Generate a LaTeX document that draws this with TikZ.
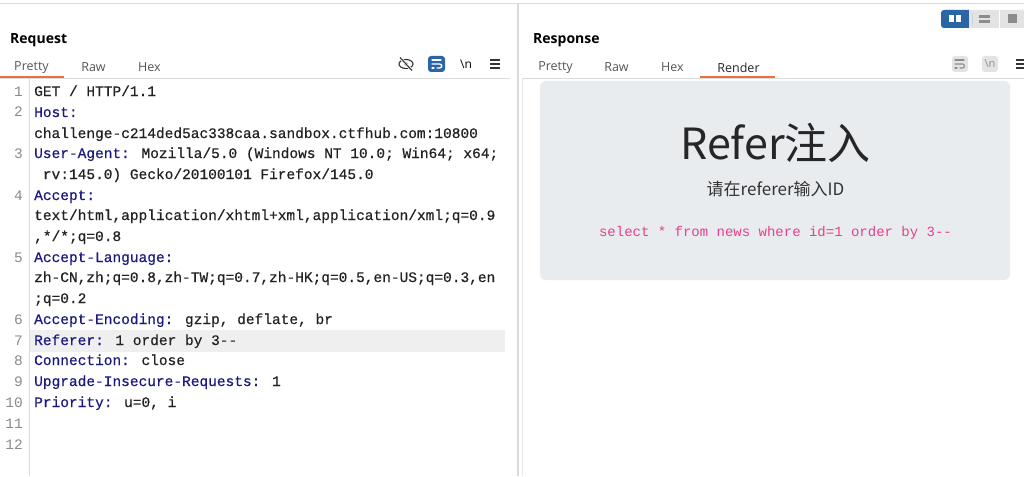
\documentclass[tikz,border=0pt]{standalone}
\usepackage{fontspec}
\setmainfont{Open Sans}
\newfontfamily\codefont[FakeBold=0.5]{Liberation Mono}
\newfontfamily\plainmono{Liberation Mono}
\newfontfamily\cjk{Noto Sans CJK SC}
\usetikzlibrary{calc}

\definecolor{keyc}{HTML}{1A1A80}
\definecolor{valc}{HTML}{222222}
\definecolor{numc}{HTML}{8A8A8A}
\definecolor{linec}{HTML}{DADADA}
\definecolor{tabc}{HTML}{555555}
\definecolor{burporange}{HTML}{E8703A}
\definecolor{burpblue}{HTML}{2A65A5}
\definecolor{hilite}{HTML}{EFEFEF}
\definecolor{renderbg}{HTML}{E9ECEF}
\definecolor{codepink}{HTML}{E83E8C}
\definecolor{btngray}{HTML}{E3E3E3}
\definecolor{icongray}{HTML}{8C8C8C}

\newcommand\hk[1]{\textcolor{keyc}{#1}}

\begin{document}
\begin{tikzpicture}[x=1pt,y=-1pt,
  codeline/.style={anchor=west,inner sep=0pt,text=valc,yshift=-1.5pt,
    font=\codefont\fontsize{14.5}{17}\selectfont,text height=10pt,text depth=3pt},
  lineno/.style={anchor=east,inner sep=0pt,text=numc,yshift=-1.5pt,
    font=\plainmono\fontsize{14.5}{17}\selectfont,text height=10pt,text depth=3pt},
  tablabel/.style={inner sep=0pt,text=tabc,yshift=-1.5pt,font=\fontsize{12.5}{15}\selectfont},
  panetitle/.style={anchor=west,inner sep=0pt,yshift=-1.5pt,font=\bfseries\fontsize{14}{17}\selectfont}]
  \useasboundingbox (0,0) rectangle (1024,476);
  \fill[white] (0,0) rectangle (1024,476);

  % frame lines
  \draw[linec,line width=1.5pt] (0,3.5) -- (1024,3.5);
  \draw[linec,line width=1.5pt] (518,4) -- (518,476);
  \draw[linec] (0,78.5) -- (510,78.5);
  \draw[linec] (522,78.5) -- (1024,78.5);
  \draw[linec!60] (522,79) -- (522,476);
  \draw[linec] (29,79) -- (29,476);

  % request pane
  \node[panetitle] (reqtitle) at (10,39) {Request};
  \node[tablabel] (reqpretty) at (31.5,66) {Pretty};
  \node[tablabel] (reqraw) at (93.5,66) {Raw};
  \node[tablabel] (reqhex) at (149.5,66) {Hex};
  \draw[burporange,line width=2pt] (0,77.5) -- (64,77.5);

  % request toolbar
  \draw[black!80,line width=1.1pt] (406,64) ellipse [x radius=7,y radius=4.5];
  \draw[black!80,fill=black!80] (406,64) circle [radius=1.6];
  \draw[white,line width=2.6pt] (400,57.5) -- (412,70.5);
  \draw[black!80,line width=1.1pt] (400,57.5) -- (412,70.5);
  \fill[burpblue,rounded corners=3pt] (428,56) rectangle (445,72);
  \draw[white,line width=1.3pt,line cap=round] (432,60) -- (441,60);
  \draw[white,line width=1.3pt,line cap=round] (432,64) -- (439.5,64)
    .. controls (442.5,64) and (442.5,68) .. (439.5,68) -- (437,68);
  \draw[white,line width=1.3pt,line cap=round] (432,68) -- (434,68);
  \node[inner sep=0pt,font=\fontsize{12}{14}\selectfont] (reqnl) at (466,64) {\textbackslash n};
  \foreach \dy in {-4,0,4}
    \draw[black!80,line width=1.2pt] (490,64+\dy) -- (500,64+\dy);

  % highlighted row
  \fill[hilite] (29.5,330) rectangle (505,352);

  % line numbers
  \foreach \n/\y in {1/91,2/112,3/153,4/195,5/257,6/319,7/340,8/360,9/381,10/402,11/423,12/444}
    \node[lineno] (n\n) at (23,\y) {\n};

  % request lines
  \node[codeline] (l1) at (34,91) {GET / HTTP/1.1};
  \node[codeline] (l2) at (34,112) {\hk{Host:}};
  \node[codeline] (l2b) at (34,133) {challenge-c214ded5ac338caa.sandbox.ctfhub.com:10800};
  \node[codeline] (l3) at (34,153) {\hk{User-Agent:} Mozilla/5.0 (Windows NT 10.0; Win64; x64;};
  \node[codeline] (l3b) at (34,174) {\ rv:145.0) Gecko/20100101 Firefox/145.0};
  \node[codeline] (l4) at (34,195) {\hk{Accept:}};
  \node[codeline] (l4b) at (34,215) {text/html,application/xhtml+xml,application/xml;q=0.9};
  \node[codeline] (l4c) at (34,236) {,*/*;q=0.8};
  \node[codeline] (l5) at (34,257) {\hk{Accept-Language:}};
  \node[codeline] (l5b) at (34,277) {zh-CN,zh;q=0.8,zh-TW;q=0.7,zh-HK;q=0.5,en-US;q=0.3,en};
  \node[codeline] (l5c) at (34,298) {;q=0.2};
  \node[codeline] (l6) at (34,319) {\hk{Accept-Encoding:} gzip, deflate, br};
  \node[codeline] (l7) at (34,340) {\hk{Referer:} 1 order by 3--};
  \node[codeline] (l8) at (34,360) {\hk{Connection:} close};
  \node[codeline] (l9) at (34,381) {\hk{Upgrade-Insecure-Requests:} 1};
  \node[codeline] (l10) at (34,402) {\hk{Priority:} u=0, i};

  % layout switch
  \fill[btngray,rounded corners=3pt] (941,10) rectangle (1030,28);
  \fill[burpblue,rounded corners=3pt] (941,10) rectangle (972,28);
  \fill[burpblue] (965,10) rectangle (969,28);
  \fill[btngray] (969,10) rectangle (972,28);
  \draw[white,line width=1pt] (999.5,10) -- (999.5,28);
  \fill[white] (949,15) rectangle (954,22);
  \fill[white] (956,15) rectangle (961,22);
  \fill[icongray] (979,15.5) rectangle (990,18);
  \fill[icongray] (979,20.5) rectangle (990,23);
  \fill[icongray] (1008,14.5) rectangle (1017,23.5);

  % response pane
  \node[panetitle] (restitle) at (533,39) {Response};
  \node[tablabel] (respretty) at (555.5,66) {Pretty};
  \node[tablabel] (resraw) at (616.5,66) {Raw};
  \node[tablabel] (reshex) at (672.5,66) {Hex};
  \node[tablabel,text=black!85] (resrender) at (738.5,66) {Render};
  \draw[burporange,line width=2pt] (700,77.5) -- (775,77.5);

  % response toolbar (disabled)
  \fill[btngray,rounded corners=3pt] (952,56) rectangle (968,72);
  \draw[icongray,line width=1.1pt,line cap=round] (955,60) -- (964,60);
  \draw[icongray,line width=1.1pt,line cap=round] (955,64) -- (962.5,64)
    .. controls (965,64) and (965,68) .. (962.5,68) -- (960,68);
  \draw[icongray,line width=1.1pt,line cap=round] (955,68) -- (957,68);
  \fill[btngray,rounded corners=3pt] (982,56) rectangle (998,72);
  \node[inner sep=0pt,text=icongray,font=\fontsize{11}{13}\selectfont] (resnl) at (990,64) {\textbackslash n};
  \foreach \dy in {-4,0,4}
    \draw[black!80,line width=1.2pt] (1016,64+\dy) -- (1024,64+\dy);

  % rendered page
  \fill[renderbg,rounded corners=6pt] (540,81) rectangle (1010,280);
  \coordinate (rc) at (775.5,81);
  \node[inner sep=0pt,text=black!85,font=\cjk\fontsize{43}{47}\selectfont] (htitle) at ($(rc)+(0,62)$) {Refer注入};
  \node[inner sep=0pt,text=black!80,font=\cjk\fontsize{17}{20}\selectfont] (hsub) at ($(rc)+(0,108)$) {请在referer输入ID};
  \node[inner sep=0pt,text=codepink,font=\plainmono\fontsize{14}{16}\selectfont] (hsql) at ($(rc)+(0,152)$) {select * from news where id=1 order by 3--};
\end{tikzpicture}
\end{document}
